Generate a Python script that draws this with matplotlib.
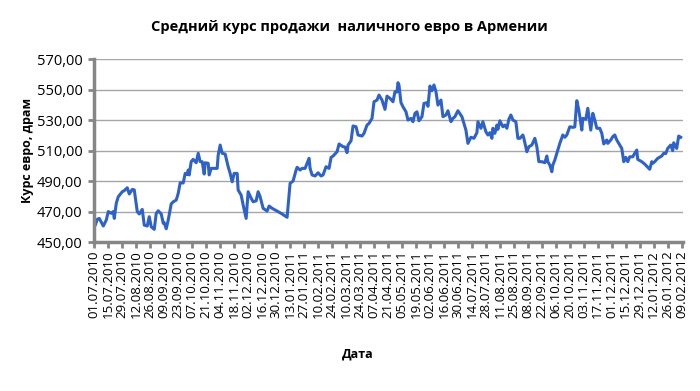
import numpy as np
import pandas as pd
import matplotlib
matplotlib.use("Agg")
import matplotlib.pyplot as plt
import matplotlib.dates as mdates
from matplotlib.ticker import FuncFormatter

# days since 01.07.2010 and the rate (AMD per EUR)
start_date = "2010-07-01"
day_offsets = [
    0, 1, 3, 5, 9, 12, 14, 17, 19, 20, 22, 24, 28, 30, 33, 35, 38, 40, 43, 45,
    48, 50, 53, 55, 57, 60, 62, 64, 67, 69, 70, 72, 74, 77, 79, 82, 84, 86, 89, 91,
    93, 94, 95, 97, 99, 102, 104, 106, 108, 110, 111, 114, 115, 117, 120, 123, 124, 126, 128, 131,
    134, 136, 138, 140, 143, 144, 147, 149, 152, 154, 157, 159, 162, 164, 166, 169, 173, 175, 178, 183,
    188, 193, 196, 199, 202, 203, 206, 208, 211, 215, 216, 218, 221, 224, 227, 229, 232, 235, 237, 239,
    243, 245, 249, 251, 253, 254, 257, 259, 262, 264, 268, 270, 273, 275, 278, 280, 283, 285, 288, 291,
    293, 296, 299, 301, 303, 304, 305, 307, 309, 312, 314, 317, 319, 321, 323, 325, 328, 330, 333, 334,
    336, 338, 340, 342, 344, 347, 349, 352, 354, 357, 359, 361, 364, 368, 369, 372, 374, 377, 380, 383,
    384, 387, 389, 392, 394, 396, 398, 399, 401, 403, 404, 406, 409, 411, 413, 415, 417, 419, 422, 424,
    426, 429, 430, 433, 435, 438, 441, 443, 445, 448, 451, 453, 454, 456, 458, 459, 461, 463, 466, 469,
    471, 473, 476, 479, 481, 483, 485, 488, 489, 492, 494, 497, 499, 501, 503, 506, 508, 510, 513, 514,
    517, 519, 521, 523, 526, 528, 530, 532, 534, 536, 539, 541, 543, 544, 548, 551, 554, 556, 558, 559,
    561, 564, 568, 570, 572, 574, 577, 579, 580, 583, 585, 587,
]
rate = [
    460.0, 461.1, 464.9, 465.5, 460.5, 464.4, 470.0, 468.8, 470.0, 465.5, 475.4, 479.7, 483.0, 483.7, 485.6, 481.5, 484.5, 484.2, 470.0, 468.4,
    471.4, 461.1, 460.5, 466.6, 460.0, 458.3, 468.8, 470.5, 468.4, 462.3, 462.6, 458.7, 464.4, 475.0, 476.4, 477.5, 481.9, 488.9, 488.7, 495.0,
    494.3, 497.2, 494.0, 502.7, 504.2, 502.0, 508.2, 502.7, 502.7, 494.6, 502.0, 501.6, 494.0, 498.3, 498.3, 498.3, 507.0, 513.6, 508.2, 507.7,
    499.4, 495.0, 489.5, 495.0, 495.0, 484.1, 480.8, 474.3, 465.5, 483.0, 478.7, 476.4, 477.0, 483.0, 479.7, 472.1, 470.3, 473.6, 472.1, 470.3,
    468.4, 466.2, 488.5, 490.0, 497.2, 499.0, 497.2, 498.3, 498.3, 504.9, 498.3, 494.0, 493.3, 495.4, 493.3, 494.0, 499.4, 498.3, 505.5, 506.4,
    509.2, 514.3, 512.5, 512.3, 508.6, 513.6, 516.4, 526.1, 525.6, 520.2, 519.5, 521.3, 526.7, 527.8, 531.1, 542.0, 543.1, 546.4, 543.1, 537.0,
    545.7, 544.2, 542.0, 548.6, 548.4, 554.5, 552.9, 541.4, 538.7, 535.4, 530.0, 531.1, 528.9, 534.4, 535.4, 529.5, 532.2, 540.9, 541.4, 539.0,
    552.3, 549.2, 553.0, 548.6, 539.8, 543.1, 532.2, 533.3, 536.1, 528.9, 531.1, 532.2, 536.1, 532.2, 530.0, 523.4, 514.7, 518.7, 518.0, 521.7,
    528.9, 524.6, 528.9, 522.3, 520.2, 521.7, 518.0, 524.6, 521.3, 526.7, 523.9, 529.5, 525.6, 526.7, 524.6, 530.5, 533.3, 530.0, 528.9, 518.0,
    518.0, 520.2, 518.0, 509.2, 512.5, 513.6, 518.0, 512.5, 502.7, 502.7, 502.0, 506.4, 502.7, 500.5, 496.1, 500.5, 503.8, 508.2, 514.7, 520.2,
    518.7, 520.2, 525.6, 525.2, 525.5, 542.7, 536.6, 523.4, 531.1, 530.5, 537.7, 523.4, 534.4, 530.0, 524.6, 524.6, 521.3, 514.3, 516.9, 514.7,
    516.9, 519.1, 520.2, 516.9, 513.6, 511.4, 502.7, 505.5, 502.7, 505.9, 505.9, 508.2, 510.3, 504.2, 502.7, 501.1, 499.0, 497.7, 502.7, 501.6,
    502.7, 504.9, 506.4, 508.2, 508.0, 511.4, 513.6, 509.9, 515.1, 511.4, 519.5, 518.7,
]
y_ticks = [450, 470, 490, 510, 530, 550, 570]

df = pd.DataFrame({"date": pd.to_datetime(start_date) + pd.to_timedelta(day_offsets, unit="D"),
                   "rate": rate})
x_ticks = pd.date_range(start_date, "2012-02-09", freq="14D")

plt.rcParams['font.family'] = ['Open Sans', 'DejaVu Sans']

fig = plt.figure(figsize=(7, 3.91), dpi=100)
ax = fig.add_axes([0.134, 0.381, 0.842, 0.468])

ax.plot(df["date"], df["rate"], color='#2f62c9', linewidth=2.2, solid_joinstyle='round')

ax.set_ylim(450, 570)
ax.set_yticks(y_ticks)
ax.yaxis.set_major_formatter(FuncFormatter(lambda v, p: f"{v:.2f}".replace(".", ",")))
ax.set_xlim(x_ticks[0] - pd.Timedelta(days=0.5), x_ticks[-1] + pd.Timedelta(days=1.5))
ax.set_xticks(x_ticks)
ax.xaxis.set_major_formatter(mdates.DateFormatter('%d.%m.%Y'))
plt.setp(ax.get_xticklabels(), rotation=90)

ax.grid(axis='y', color='#a6a6a6', linewidth=1)
ax.set_axisbelow(True)
for s in ['top', 'right']:
    ax.spines[s].set_visible(False)
for s in ['left', 'bottom']:
    ax.spines[s].set_color('#868686')
    ax.spines[s].set_linewidth(2.5)
ax.tick_params(axis='both', colors='#868686', width=2, length=4, labelcolor='black')
ax.tick_params(axis='y', labelsize=10.5, pad=4)
ax.tick_params(axis='x', labelsize=9.6, pad=2)

fig.text(0.499, 0.93, "Средний курс продажи  наличного евро в Армении", fontsize=10.5,
         fontweight='bold', ha='center', va='center')
ax.set_ylabel("Курс евро, драм", fontsize=9, fontweight='bold', labelpad=2)
fig.text(0.511, 0.085, "Дата", fontsize=9, fontweight='bold', ha='center')

fig.savefig("out.png", dpi=100)
